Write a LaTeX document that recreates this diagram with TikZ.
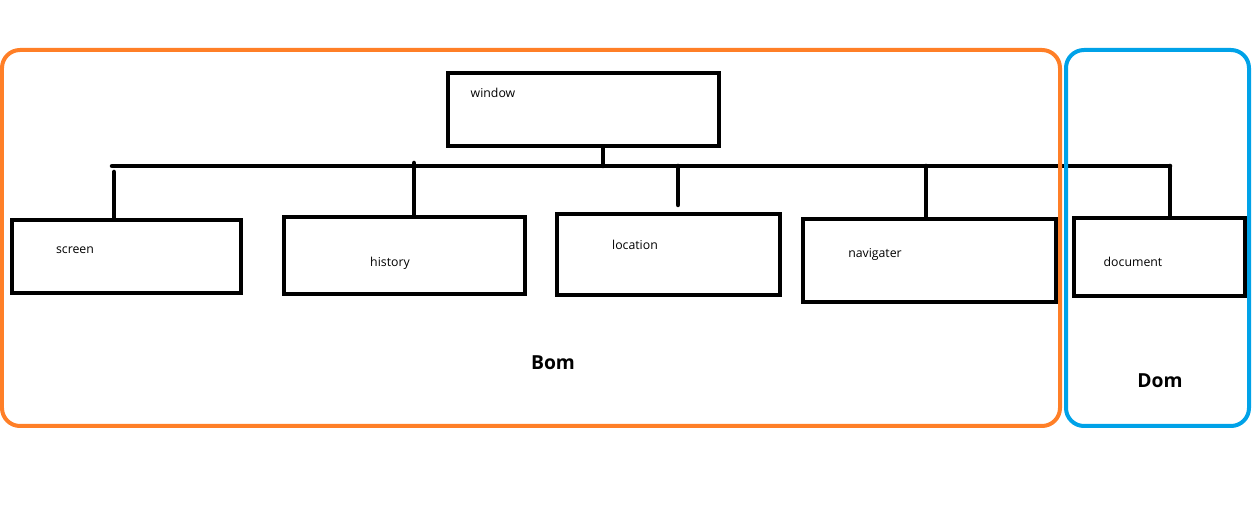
\documentclass[tikz,border=0pt]{standalone}
\usepackage{fontspec}
\setmainfont{Open Sans}
\usetikzlibrary{fit}
\definecolor{bomorange}{RGB}{255,127,39}
\definecolor{domblue}{RGB}{0,162,232}
\tikzset{
  box/.style={draw, line width=0.09cm, inner sep=0pt},
  wire/.style={line width=0.09cm, line cap=round},
  group/.style={draw, line width=0.08cm, rounded corners=0.36cm, inner sep=0pt},
  lbl/.style={font=\fontsize{7}{8}\selectfont, inner sep=0pt},
  title/.style={font=\bfseries\fontsize{11}{13}\selectfont, inner sep=0pt}
}
\begin{document}
\begin{tikzpicture}[x=0.02cm, y=-0.02cm]
  \useasboundingbox (0,0) rectangle (1252,509);
  % boxes
  \foreach \n/\xa/\ya/\xb/\yb in {win/448/73/719/146, scr/12/220/241/293,
      his/284/217/525/294, loc/557/214/780/295, nav/803/219/1056/302,
      doc/1074/218/1245/296}{
    \node[box, fit={(\xa,\ya) (\xb,\yb)}] (\n) {};
  }
  \foreach \n/\x/\y/\t in {win/493/93/window, scr/75/250/screen,
      his/390/263/history, loc/635/245/location, nav/875/254/navigater,
      doc/1133/262/document}{
    \node[lbl] (\n-txt) at (\x,\y) {\t};
  }
  % bus
  \coordinate (busL) at (112,166);
  \coordinate (busR) at (1170,166);
  \draw[wire] (busL) -- (busR);
  \draw[wire] (603,0 |- win.south) -- (603,0 |- busL);
  \foreach \n/\x/\ya in {scr/114/172, his/414/163, nav/926/166, doc/1170/166}{
    \draw[wire] (\x,\ya) -- (\x,0 |- \n.north);
  }
  \coordinate (locEnd) at (678,205);
  \draw[wire] (678,0 |- busL) -- (locEnd);
  % groups
  \node[group, bomorange, fit={(2,50) (1060,426)}] (bom) {};
  \node[group, domblue, fit={(1066,50) (1249,426)}] (dom) {};
  \node[title] (bomTitle) at (553,363) {Bom};
  \node[title] (domTitle) at (1160,381) {Dom};
\end{tikzpicture}
\end{document}
